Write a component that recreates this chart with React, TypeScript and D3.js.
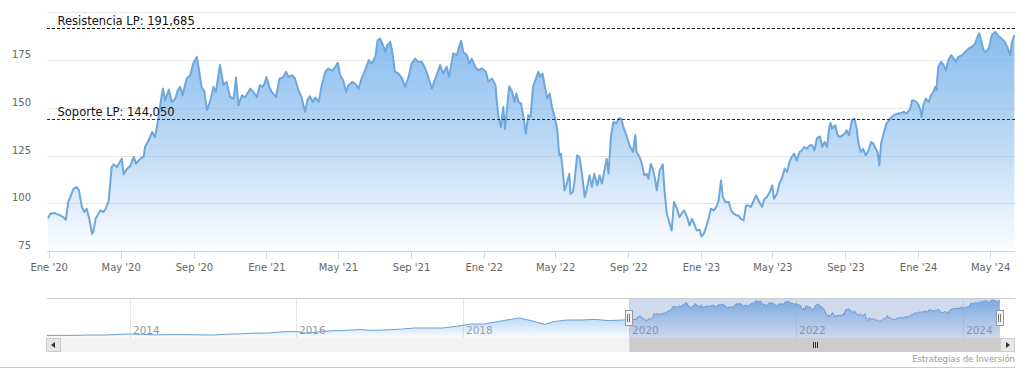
import React from 'react';
import * as d3 from 'd3';

const W = 1027;
const H = 384;

// Main series (2019-12-30 .. 2024-06-10)
const mainDates = [
  '2019-12-30','2020-01-03','2020-01-11','2020-01-19','2020-01-25','2020-01-29','2020-02-02','2020-02-11','2020-02-16','2020-02-20',
  '2020-02-25','2020-02-29','2020-03-04','2020-03-09','2020-03-13','2020-03-15','2020-03-19','2020-03-27','2020-04-01','2020-04-05',
  '2020-04-10','2020-04-15','2020-04-18','2020-04-24','2020-04-27','2020-05-02','2020-05-05','2020-05-11','2020-05-16','2020-05-22',
  '2020-05-26','2020-06-02','2020-06-08','2020-06-10','2020-06-16','2020-06-22','2020-06-27','2020-07-02','2020-07-06','2020-07-10',
  '2020-07-14','2020-07-20','2020-07-25','2020-07-31','2020-08-04','2020-08-08','2020-08-12','2020-08-19','2020-08-25','2020-08-30',
  '2020-09-05','2020-09-08','2020-09-13','2020-09-18','2020-09-22','2020-09-28','2020-10-03','2020-10-07','2020-10-14','2020-10-20',
  '2020-10-25','2020-10-31','2020-11-06','2020-11-10','2020-11-14','2020-11-20','2020-11-25','2020-12-04','2020-12-09','2020-12-15',
  '2020-12-20','2020-12-24','2020-12-28','2020-12-31','2021-01-05','2021-01-09','2021-01-16','2021-01-22','2021-01-28','2021-02-02',
  '2021-02-06','2021-02-12','2021-02-17','2021-02-23','2021-02-28','2021-03-06','2021-03-10','2021-03-14','2021-03-19','2021-03-23',
  '2021-03-29','2021-04-03','2021-04-09','2021-04-14','2021-04-20','2021-04-26','2021-04-30','2021-05-04','2021-05-09','2021-05-14',
  '2021-05-18','2021-05-24','2021-05-29','2021-06-04','2021-06-09','2021-06-15','2021-06-21','2021-06-26','2021-07-02','2021-07-06',
  '2021-07-10','2021-07-15','2021-07-19','2021-07-22','2021-07-27','2021-07-31','2021-08-04','2021-08-10','2021-08-16','2021-08-21',
  '2021-08-27','2021-09-01','2021-09-07','2021-09-12','2021-09-18','2021-09-24','2021-09-29','2021-10-05','2021-10-10','2021-10-16',
  '2021-10-19','2021-10-24','2021-10-30','2021-11-03','2021-11-10','2021-11-16','2021-11-23','2021-11-27','2021-12-03','2021-12-07',
  '2021-12-11','2021-12-17','2021-12-22','2021-12-28','2022-01-04','2022-01-08','2022-01-14','2022-01-20','2022-01-22','2022-01-25',
  '2022-01-29','2022-02-02','2022-02-05','2022-02-12','2022-02-17','2022-02-21','2022-02-24','2022-02-28','2022-03-04','2022-03-08',
  '2022-03-12','2022-03-16','2022-03-20','2022-03-24','2022-03-29','2022-04-02','2022-04-05','2022-04-09','2022-04-13','2022-04-17',
  '2022-04-21','2022-04-25','2022-04-30','2022-05-04','2022-05-07','2022-05-10','2022-05-13','2022-05-16','2022-05-20','2022-05-24',
  '2022-05-26','2022-05-30','2022-06-02','2022-06-06','2022-06-10','2022-06-14','2022-06-19','2022-06-22','2022-06-27','2022-07-01',
  '2022-07-05','2022-07-10','2022-07-14','2022-07-18','2022-07-22','2022-07-26','2022-07-29','2022-08-02','2022-08-06','2022-08-11',
  '2022-08-15','2022-08-19','2022-08-23','2022-08-28','2022-09-02','2022-09-08','2022-09-12','2022-09-14','2022-09-19','2022-09-23',
  '2022-09-27','2022-10-01','2022-10-04','2022-10-08','2022-10-12','2022-10-15','2022-10-18','2022-10-23','2022-10-28','2022-10-31',
  '2022-11-04','2022-11-08','2022-11-12','2022-11-16','2022-11-21','2022-11-25','2022-11-29','2022-12-03','2022-12-08','2022-12-12',
  '2022-12-16','2022-12-20','2022-12-24','2022-12-29','2023-01-01','2023-01-05','2023-01-09','2023-01-13','2023-01-17','2023-01-22',
  '2023-01-26','2023-01-30','2023-02-03','2023-02-06','2023-02-10','2023-02-16','2023-02-20','2023-02-24','2023-03-01','2023-03-04',
  '2023-03-08','2023-03-13','2023-03-17','2023-03-21','2023-03-25','2023-03-30','2023-04-03','2023-04-07','2023-04-13','2023-04-17',
  '2023-04-21','2023-04-26','2023-04-30','2023-05-03','2023-05-08','2023-05-12','2023-05-16','2023-05-21','2023-05-25','2023-05-29',
  '2023-06-02','2023-06-06','2023-06-10','2023-06-15','2023-06-19','2023-06-23','2023-06-27','2023-07-02','2023-07-06','2023-07-10',
  '2023-07-14','2023-07-19','2023-07-23','2023-07-27','2023-07-31','2023-08-04','2023-08-06','2023-08-09','2023-08-14','2023-08-18',
  '2023-08-22','2023-08-26','2023-08-30','2023-09-02','2023-09-06','2023-09-11','2023-09-15','2023-09-19','2023-09-22','2023-09-26',
  '2023-09-30','2023-10-04','2023-10-09','2023-10-13','2023-10-17','2023-10-21','2023-10-24','2023-10-27','2023-10-30','2023-11-03',
  '2023-11-08','2023-11-14','2023-11-20','2023-11-26','2023-12-01','2023-12-07','2023-12-12','2023-12-18','2023-12-21','2023-12-26',
  '2023-12-31','2024-01-04','2024-01-06','2024-01-09','2024-01-13','2024-01-18','2024-01-22','2024-01-26','2024-01-29','2024-01-31',
  '2024-02-03','2024-02-08','2024-02-12','2024-02-16','2024-02-20','2024-02-25','2024-02-29','2024-03-03','2024-03-08','2024-03-14',
  '2024-03-19','2024-03-25','2024-03-31','2024-04-05','2024-04-10','2024-04-12','2024-04-15','2024-04-19','2024-04-23','2024-04-28',
  '2024-05-03','2024-05-09','2024-05-13','2024-05-19','2024-05-25','2024-05-30','2024-06-03','2024-06-06','2024-06-10',
];
const mainValues = [
  92.3, 94.8, 95.1, 93.9, 93.0, 91.6, 100.9, 107.9, 108.7, 107.0,
  98.3, 95.6, 97.4, 91.3, 84.3, 85.1, 92.1, 96.5, 95.6, 97.4,
  101.7, 119.2, 120.6, 119.2, 121.0, 123.6, 115.4, 118.4, 119.6, 124.5,
  121.0, 123.6, 124.8, 129.7, 133.2, 137.6, 135.0, 143.7, 152.4, 160.3,
  154.2, 159.8, 153.3, 155.1, 159.4, 161.2, 156.8, 165.6, 167.3, 173.4,
  176.9, 171.7, 161.2, 158.6, 149.0, 154.2, 161.2, 158.6, 172.6, 162.1,
  163.8, 155.9, 155.1, 166.1, 151.6, 156.8, 155.6, 160.3, 158.6, 155.9,
  162.1, 161.2, 162.9, 166.4, 161.2, 158.6, 155.9, 165.6, 166.1, 169.1,
  166.4, 167.3, 165.6, 159.4, 155.9, 148.1, 154.2, 156.3, 153.3, 155.6,
  153.3, 162.1, 169.1, 170.8, 169.6, 171.7, 173.8, 167.3, 164.7, 158.6,
  162.1, 163.8, 162.9, 160.3, 165.6, 169.9, 175.2, 173.4, 176.9, 185.7,
  186.5, 183.0, 179.5, 183.0, 184.8, 178.7, 169.1, 168.2, 165.6, 161.2,
  166.4, 173.4, 176.0, 174.3, 174.3, 170.8, 166.4, 160.3, 164.7, 169.9,
  172.6, 168.2, 171.7, 166.4, 178.7, 177.8, 185.3, 179.5, 177.8, 173.4,
  176.0, 171.7, 169.9, 170.8, 169.1, 163.8, 165.6, 162.1, 154.2, 145.5,
  140.2, 150.7, 139.3, 161.5, 158.6, 153.3, 157.7, 153.3, 152.4, 145.5,
  136.7, 146.3, 145.5, 161.2, 165.6, 169.1, 166.4, 168.2, 161.2, 155.1,
  157.7, 150.7, 144.6, 138.5, 125.3, 126.2, 117.5, 107.0, 110.5, 115.7,
  105.2, 106.1, 112.2, 125.3, 124.5, 116.6, 103.5, 107.0, 114.9, 108.7,
  115.7, 109.6, 114.9, 110.5, 117.5, 123.6, 115.7, 135.0, 142.8, 142.0,
  144.6, 144.6, 140.2, 135.8, 130.6, 127.1, 136.0, 127.1, 124.5, 121.0,
  114.9, 115.7, 113.1, 121.0, 117.5, 113.1, 107.0, 117.5, 120.6, 107.0,
  94.8, 90.4, 86.0, 100.9, 97.4, 93.0, 94.8, 96.5, 93.0, 88.6,
  92.1, 89.5, 86.0, 86.4, 82.9, 84.3, 87.8, 92.1, 97.4, 96.5,
  98.3, 101.7, 112.2, 103.5, 100.9, 100.9, 96.5, 94.8, 93.9, 93.9,
  92.1, 91.3, 99.1, 99.1, 98.3, 101.7, 104.4, 101.7, 98.3, 102.6,
  103.5, 106.1, 109.6, 102.6, 105.2, 110.5, 113.1, 118.4, 116.6, 121.9,
  124.5, 126.2, 122.7, 127.1, 128.0, 129.7, 128.8, 130.6, 130.6, 128.0,
  134.1, 135.3, 129.7, 132.3, 129.7, 140.2, 142.3, 139.3, 141.1, 135.8,
  135.0, 135.8, 136.7, 138.5, 135.8, 143.7, 144.6, 139.3, 131.5, 127.1,
  128.8, 125.3, 128.0, 132.3, 131.5, 128.8, 127.1, 120.1, 131.5, 136.7,
  142.0, 144.6, 146.3, 147.2, 147.2, 148.1, 147.2, 149.8, 154.2, 153.8,
  152.4, 149.0, 145.5, 151.6, 155.1, 153.3, 156.8, 158.6, 161.2, 159.4,
  171.7, 174.3, 172.6, 169.9, 175.2, 177.8, 176.0, 174.3, 176.9, 177.8,
  179.5, 181.3, 182.2, 183.9, 188.3, 189.2, 185.7, 180.4, 179.5, 181.3,
  188.3, 190.0, 188.3, 186.5, 184.8, 181.3, 177.8, 184.8, 188.3,
];

// Earlier history, only visible in the navigator
const histDates = [
  '2013-01-02','2013-03-01','2013-05-01','2013-07-01','2013-09-01','2013-11-01','2014-01-02','2014-03-01','2014-05-01','2014-07-01',
  '2014-09-01','2014-11-01','2015-01-02','2015-03-01','2015-05-01','2015-07-01','2015-09-01','2015-11-01','2016-01-04','2016-02-10',
  '2016-04-01','2016-06-01','2016-08-01','2016-10-01','2016-12-01','2017-02-01','2017-04-01','2017-06-01','2017-08-01','2017-10-01',
  '2017-12-01','2018-02-01','2018-04-01','2018-06-01','2018-08-01','2018-09-04','2018-11-01','2018-12-24','2019-02-01','2019-04-01',
  '2019-06-01','2019-08-01','2019-10-01','2019-12-02',
];
const histValues = [
  13, 13.2, 13, 15, 14.5, 17, 20, 18, 15.5, 17,
  17, 15.5, 15, 19, 21, 24, 25, 31, 32, 25,
  30, 36, 38, 42, 38, 41, 44, 50, 50, 50,
  58, 70, 70, 82, 94, 100, 85, 68, 82, 90,
  90, 93, 87, 90,
];

const viewStart = '2019-12-30';
const viewEnd = '2024-06-11';
const navStart = '2013-01-02';
const yTicks = [75, 100, 125, 150, 175, 200];
const yLabelTicks = [75, 100, 125, 150, 175];
const monthNames = ['Ene', 'Feb', 'Mar', 'Abr', 'May', 'Jun', 'Jul', 'Ago', 'Sep', 'Oct', 'Nov', 'Dic'];
const navYears = [2014, 2016, 2018, 2020, 2022, 2024];
const resistValue = 191.685;
const resistLabel = 'Resistencia LP: 191,685';
const supportValue = 144.05;
const supportLabel = 'Soporte LP: 144,050';
const creditText = 'Estrategias de Inversión';

type Pt = { date: Date; value: number };
const parse = d3.timeParse('%Y-%m-%d');
const FONT = "'DejaVu Sans', Verdana, sans-serif";

export default function App() {
  const data: Pt[] = mainDates.map((d, i) => ({ date: parse(d)!, value: mainValues[i] }));
  const hist: Pt[] = histDates.map((d, i) => ({ date: parse(d)!, value: histValues[i] }));
  const navData = hist.concat(data);

  const plotL = 47;
  const plotR = 1015;
  const x = d3.scaleTime().domain([parse(viewStart)!, parse(viewEnd)!]).range([48, 1015]);
  const y = d3.scaleLinear().domain([75, 200]).range([251.5, 12.75]);

  const area = d3.area<Pt>().x(d => x(d.date)).y0(y(75)).y1(d => y(d.value));
  const line = d3.line<Pt>().x(d => x(d.date)).y(d => y(d.value));

  const xTicks = x.ticks(d3.timeMonth.every(4)!);
  const fmt = (d: Date) => `${monthNames[d.getMonth()]} '${String(d.getFullYear()).slice(2)}`;

  // navigator
  const navTop = 298;
  const navBot = 338;
  const xn = d3.scaleTime().domain([parse(navStart)!, parse(viewEnd)!]).range([47, 1000]);
  const yn = d3.scaleLinear().domain([0, 200]).range([navBot, navTop]);
  const navArea = d3.area<Pt>().x(d => xn(d.date)).y0(navBot).y1(d => yn(d.value));
  const navLine = d3.line<Pt>().x(d => xn(d.date)).y(d => yn(d.value));
  const selL = xn(parse(viewStart)!);
  const selR = xn(parse(viewEnd)!);

  const sbTop = 338;
  const sbH = 14;
  const gripX = (selL + selR) / 2;

  const crisp = (v: number) => Math.floor(v) + 0.5;

  const handle = (cx: number) => (
    <g>
      <rect x={Math.round(cx) - 3.5} y={310.5} width={7} height={15} fill="#f2f2f2" stroke="#999" strokeWidth={1} />
      <line x1={Math.round(cx) - 1.5} x2={Math.round(cx) - 1.5} y1={314} y2={322} stroke="#777" />
      <line x1={Math.round(cx) + 0.5} x2={Math.round(cx) + 0.5} y1={314} y2={322} stroke="#777" />
    </g>
  );

  return (
    <svg width={W} height={H} style={{ position: 'absolute', left: 0, top: 0, background: '#fff' }} fontFamily={FONT}>
      <defs>
        <linearGradient id="mainGrad" gradientUnits="userSpaceOnUse" x1={0} y1={20} x2={0} y2={251}>
          <stop offset="0" stopColor="#7cb5ec" stopOpacity={0.95} />
          <stop offset="0.55" stopColor="#7cb5ec" stopOpacity={0.5} />
          <stop offset="1" stopColor="#7cb5ec" stopOpacity={0.02} />
        </linearGradient>
        <linearGradient id="navGrad" gradientUnits="userSpaceOnUse" x1={0} y1={navTop} x2={0} y2={navBot}>
          <stop offset="0" stopColor="#7cb5ec" stopOpacity={0.95} />
          <stop offset="1" stopColor="#7cb5ec" stopOpacity={0.05} />
        </linearGradient>
        <clipPath id="plotClip">
          <rect x={plotL} y={0} width={plotR - plotL} height={252} />
        </clipPath>
      </defs>

      {/* grid */}
      {yTicks.map(t => (
        <line key={t} x1={plotL} x2={plotR} y1={crisp(y(t))} y2={crisp(y(t))} stroke="#e6e6e6" strokeWidth={1} />
      ))}

      {/* series */}
      <g clipPath="url(#plotClip)">
        <path d={area(data) || ''} fill="url(#mainGrad)" />
        <path d={line(data) || ''} fill="none" stroke="#6fa7db" strokeWidth={2} strokeLinejoin="round" />
      </g>

      {/* plot lines */}
      <line x1={plotL} x2={plotR} y1={crisp(y(resistValue))} y2={crisp(y(resistValue))} stroke="#111" strokeWidth={1} strokeDasharray="3,2" />
      <text x={57.5} y={y(resistValue) - 3.5} fontSize={11.5} fill="#111">{resistLabel}</text>
      <line x1={plotL} x2={plotR} y1={crisp(y(supportValue))} y2={crisp(y(supportValue))} stroke="#8b0a1a" strokeWidth={1} strokeDasharray="3,2" />
      <text x={57.5} y={y(supportValue) - 3.5} fontSize={11.5} fill="#111">{supportLabel}</text>

      {/* y labels */}
      {yLabelTicks.map(t => (
        <text key={t} x={31} y={crisp(y(t)) - 3} textAnchor="end" fontSize={10} fill="#666">{t}</text>
      ))}

      {/* x axis */}
      <line x1={plotL} x2={plotR} y1={251.5} y2={251.5} stroke="#ccd6eb" strokeWidth={1} />
      {xTicks.map(t => (
        <g key={+t}>
          <line x1={crisp(x(t))} x2={crisp(x(t))} y1={251.5} y2={259} stroke="#ccd6eb" strokeWidth={1} />
          <text x={x(t)} y={270.5} textAnchor="middle" fontSize={10} fill="#666">{fmt(t)}</text>
        </g>
      ))}

      {/* navigator */}
      {navYears.map(yr => {
        const px = crisp(xn(new Date(yr, 0, 1)));
        return (
          <g key={yr}>
            <line x1={px} x2={px} y1={navTop} y2={navBot} stroke="#e6e6e6" strokeWidth={1} />
            <text x={px + 2.5} y={334} fontSize={10.5} fill="#999">{yr}</text>
          </g>
        );
      })}
      <path d={navArea(navData) || ''} fill="url(#navGrad)" />
      <path d={navLine(navData) || ''} fill="none" stroke="#6a9fd6" strokeWidth={1} />
      <rect x={selL} y={navTop} width={selR - selL} height={navBot - navTop} fill="rgba(102,133,194,0.3)" />
      <line x1={plotL} x2={plotR} y1={navTop + 0.5} y2={navTop + 0.5} stroke="#cccccc" strokeWidth={1} />

      {/* scrollbar */}
      <rect x={plotL} y={sbTop} width={plotR - plotL} height={sbH} fill="#f2f2f2" />
      <rect x={selL} y={sbTop} width={selR - selL} height={sbH} fill="#cccccc" />
      {[-2, 0, 2].map(o => (
        <line key={o} x1={Math.round(gripX) + o + 0.5} x2={Math.round(gripX) + o + 0.5} y1={342} y2={348} stroke="#333" strokeWidth={1} />
      ))}
      <rect x={46.5} y={sbTop + 0.5} width={14} height={sbH - 1} fill="#e6e6e6" stroke="#cccccc" />
      <path d={`M55,342 L51,345 L55,348 Z`} fill="#333" />
      <rect x={1000.5} y={sbTop + 0.5} width={14} height={sbH - 1} fill="#e6e6e6" stroke="#cccccc" />
      <path d={`M1006,342 L1010,345 L1006,348 Z`} fill="#333" />

      {handle(selL)}
      {handle(selR)}

      {/* credits */}
      <text x={1015} y={362} textAnchor="end" fontSize={8.5} fill="#999">{creditText}</text>
      <line x1={0} x2={1015} y1={367.5} y2={367.5} stroke="#c8cfdc" strokeWidth={1} />
    </svg>
  );
}
